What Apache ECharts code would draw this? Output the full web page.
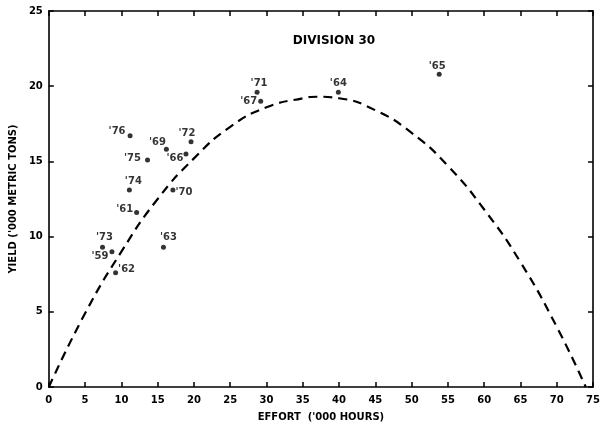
<!DOCTYPE html>
<html>
<head>
    <meta charset="utf-8">
    <title>Division 30</title>
    <script src="https://cdn.jsdelivr.net/npm/echarts@6/dist/echarts.min.js"></script>
    <style>
        html, body { margin: 0; padding: 0; background: #fff; }
        #chart { width: 603px; height: 435px; }
    </style>
</head>
<body>
<div id="chart"></div>
<script>
    // observed catches by year
    var years  = ["'59", "'61", "'62", "'63", "'64", "'65", "'66", "'67", "'69", "'70", "'71", "'72", "'73", "'74", "'75", "'76"];
    var effort = [8.7, 12.1, 9.2, 15.8, 39.9, 53.8, 18.9, 29.2, 16.2, 17.1, 28.7, 19.6, 7.4, 11.1, 13.6, 11.2];
    var yieldV = [9.0, 11.6, 7.6, 9.3, 19.6, 20.8, 15.5, 19.0, 15.8, 13.1, 19.6, 16.3, 9.3, 13.1, 15.1, 16.7];

    // dashed curve
    var curveX = [0, 5, 10, 15, 20, 25, 30, 35, 37, 40, 45, 50, 55, 60, 65, 70, 74];
    var curveY = [0, 4.9, 9.0, 12.5, 15.2, 17.3, 18.6, 19.2, 19.3, 19.2, 18.4, 16.9, 14.7, 11.8, 8.3, 4.0, 0];

    var xTicks = [0, 5, 10, 15, 20, 25, 30, 35, 40, 45, 50, 55, 60, 65, 70, 75];
    var yTicks = [0, 5, 10, 15, 20, 25];

    // where each year label sits relative to its dot (px)
    var labelOffset = {
        "'59": [-12, 5], "'61": [-12, -3], "'62": [11, -3], "'63": [5, -10],
        "'64": [0, -9], "'65": [-2, -8], "'66": [-11, 5], "'67": [-12, 0],
        "'69": [-9, -7], "'70": [11, 2], "'71": [2, -9], "'72": [-4, -8],
        "'73": [2, -10], "'74": [4, -9], "'75": [-15, -1], "'76": [-13, -4]
    };

    var font = 'DejaVu Sans';
    var pts = years.map(function (y, i) {
        return {
            value: [effort[i], yieldV[i]],
            label: { show: true, formatter: y, position: 'inside', offset: labelOffset[y] }
        };
    });
    var curve = curveX.map(function (x, i) { return [x, curveY[i]]; });

    var axisCommon = {
        type: 'value',
        axisLine: { show: true, onZero: false, lineStyle: { color: '#000', width: 1.6 } },
        axisTick: { show: true, inside: true, length: 5, lineStyle: { color: '#000', width: 1.5 } },
        splitLine: { show: false }
    };

    var option = {
        backgroundColor: '#fff',
        animation: false,
        title: {
            text: 'DIVISION 30',
            left: 329, top: 30, textAlign: 'center',
            textStyle: { fontFamily: font, fontWeight: 'bold', fontSize: 12, color: '#000' }
        },
        grid: { left: 47, right: 5, top: 11, bottom: 48 },
        xAxis: [
            Object.assign({}, axisCommon, {
                min: 0, max: 75, interval: 5, position: 'bottom',
                name: "EFFORT  ('000 HOURS)", nameLocation: 'middle', nameGap: 25,
                nameTextStyle: { fontFamily: font, fontWeight: 'bold', fontSize: 10, color: '#000' },
                axisLabel: {
                    margin: 8, color: '#000', fontFamily: font, fontWeight: 'bold', fontSize: 10,
                    formatter: function (v) { return xTicks.indexOf(v) >= 0 ? String(v) : ''; }
                }
            }),
            Object.assign({}, axisCommon, {
                min: 0, max: 75, interval: 5, position: 'top', axisLabel: { show: false }
            })
        ],
        yAxis: [
            Object.assign({}, axisCommon, {
                min: 0, max: 25, interval: 5, position: 'left',
                name: "YIELD ('000 METRIC TONS)", nameLocation: 'middle', nameGap: 27, nameRotate: 90,
                nameTextStyle: { fontFamily: font, fontWeight: 'bold', fontSize: 10, color: '#000' },
                axisLabel: {
                    margin: 6, color: '#000', fontFamily: font, fontWeight: 'bold', fontSize: 10,
                    formatter: function (v) { return yTicks.indexOf(v) >= 0 ? String(v) : ''; }
                }
            }),
            Object.assign({}, axisCommon, {
                min: 0, max: 25, interval: 5, position: 'right', axisLabel: { show: false }
            })
        ],
        series: [
            {
                type: 'line',
                data: curve,
                smooth: true,
                symbol: 'none',
                lineStyle: { color: '#000', width: 2.2, type: [9, 6] },
                silent: true
            },
            {
                type: 'scatter',
                data: pts,
                symbol: 'circle',
                symbolSize: 5,
                itemStyle: { color: '#000' },
                label: { color: '#000', fontFamily: font, fontWeight: 'bold', fontSize: 10 }
            }
        ]
    };

    var chart = echarts.init(document.getElementById('chart'));
    chart.setOption(option);
</script>
</body>
</html>
